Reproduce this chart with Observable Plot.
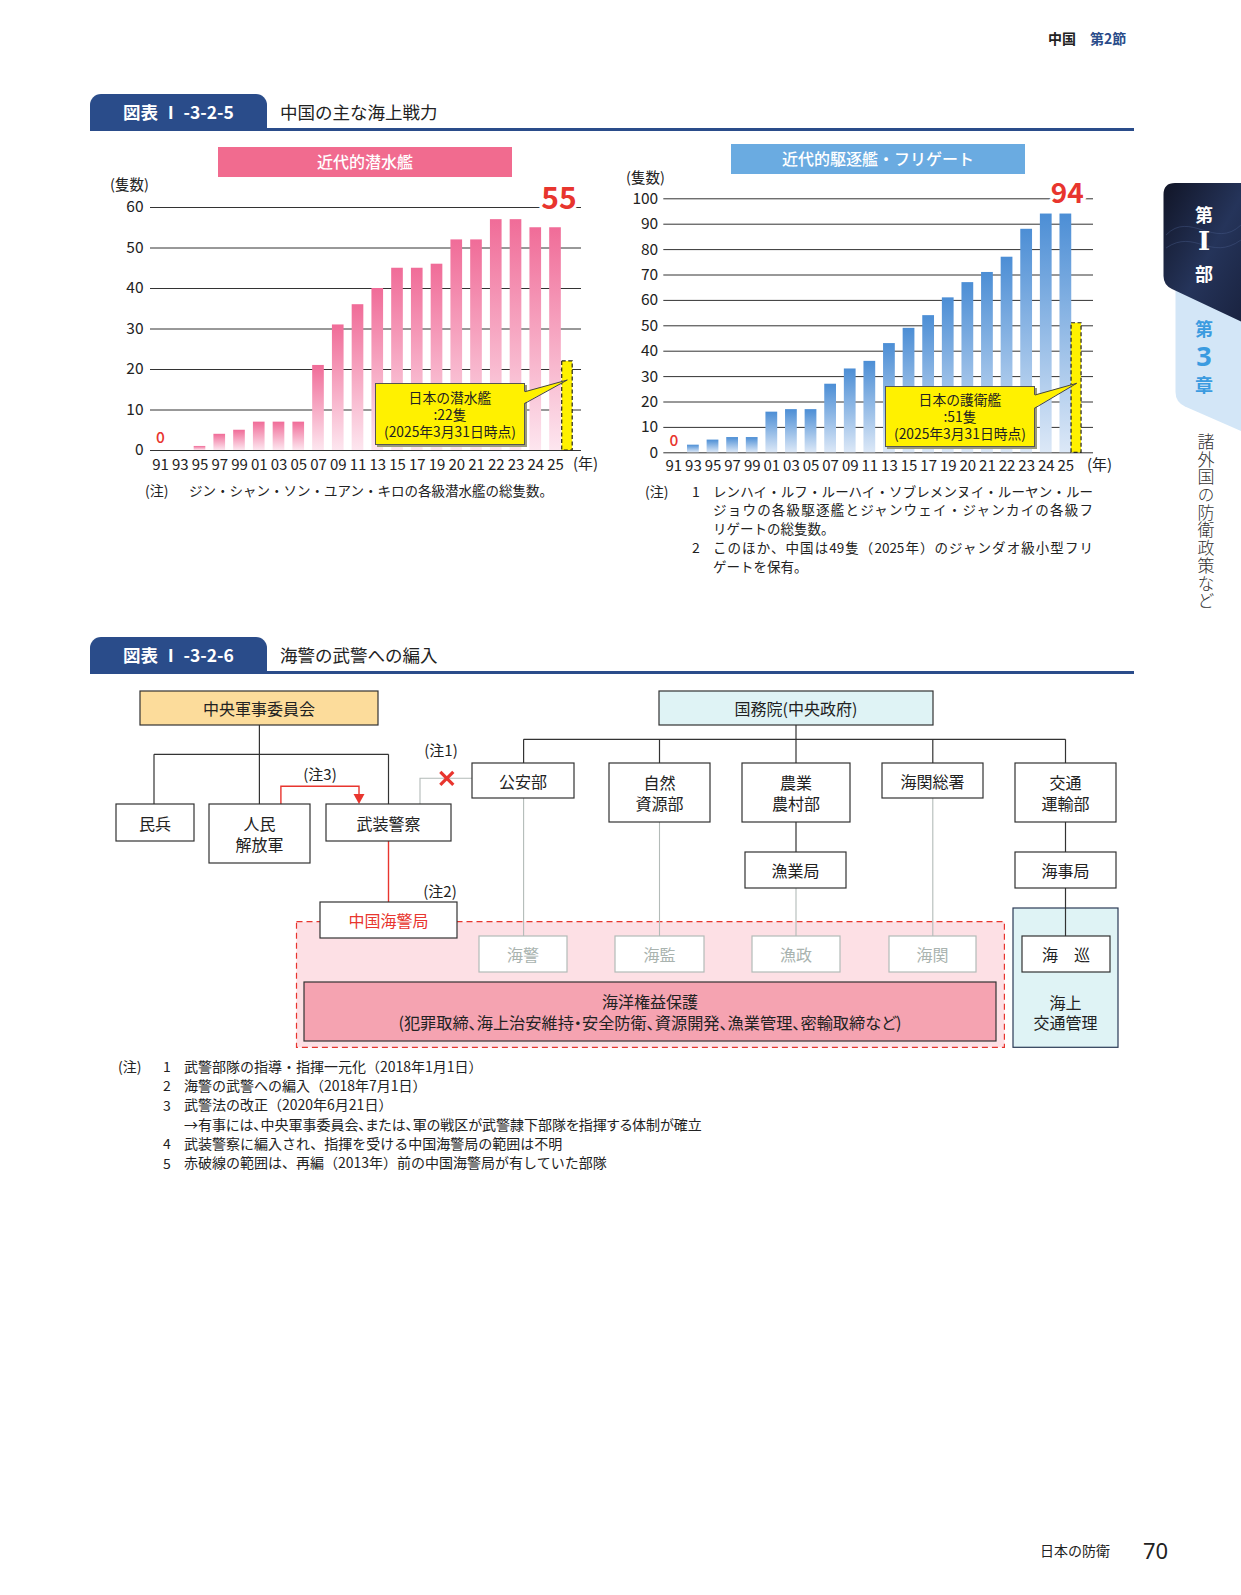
<!DOCTYPE html>
<html><head><meta charset="utf-8">
<script src="https://cdn.jsdelivr.net/npm/d3@7"></script>
<script src="https://cdn.jsdelivr.net/npm/@observablehq/plot@0.6"></script>
<style>
body{margin:0;background:#fff;}
#page{position:relative;width:1241px;height:1595px;overflow:hidden;background:#fff;font-family:'Noto Sans CJK JP','Noto Sans',sans-serif;color:#222;}
.abs{position:absolute;white-space:nowrap;}
</style></head>
<body><div id="page"></div>
<script>
const FONT = "'Noto Sans CJK JP','Noto Sans',sans-serif";

// ---- data ----
const years = ["91","93","95","97","99","01","03","05","07","09","11","13","15","17","19","20","21","22","23","24","25"];
const submarines = [0,0,1,4,5,7,7,7,21,31,36,40,45,45,46,52,52,57,57,55,55];
const destroyers = [0,3,5,6,6,16,17,17,27,33,36,43,49,54,61,67,71,77,88,94,94];
const japanSubmarines = 22;
const japanEscorts = 51;
const subTicks = [0,10,20,30,40,50,60];
const dstTicks = [0,10,20,30,40,50,60,70,80,90,100];
const subTitle = "近代的潜水艦";
const dstTitle = "近代的駆逐艦・フリゲート";
const subCallout = ["日本の潜水艦", ":" + japanSubmarines + "隻", "(2025年3月31日時点)"];
const dstCallout = ["日本の護衛艦", ":" + japanEscorts + "隻", "(2025年3月31日時点)"];
const subNote = "ジン・シャン・ソン・ユアン・キロの各級潜水艦の総隻数。";
const dstNotes = [
  ["1", "レンハイ・ルフ・ルーハイ・ソブレメンヌイ・ルーヤン・ルー", true],
  ["", "ジョウの各級駆逐艦とジャンウェイ・ジャンカイの各級フ", true],
  ["", "リゲートの総隻数。", false],
  ["2", "このほか、中国は49隻（2025年）のジャンダオ級小型フリ", true],
  ["", "ゲートを保有。", false]
];
const orgNotes = [
  ["1", "武警部隊の指導・指揮一元化（2018年1月1日）", false],
  ["2", "海警の武警への編入（2018年7月1日）", false],
  ["3", "武警法の改正（2020年6月21日）", false],
  ["", " →有事には、中央軍事委員会、または、軍の戦区が武警隷下部隊を指揮する体制が確立", true],
  ["4", "武装警察に編入され、指揮を受ける中国海警局の範囲は不明", false],
  ["5", "赤破線の範囲は、再編（2013年）前の中国海警局が有していた部隊", false]
];

const page = document.getElementById("page");
const NS = "http://www.w3.org/2000/svg";

function txt(s, x, y, o = {}) {
  const d = document.createElement("div");
  d.className = "abs";
  const fs = o.fs || 14, lh = o.lh || 20;
  d.style.cssText = `left:${x}px;top:${y - lh / 2}px;font-size:${fs}px;line-height:${lh}px;` + (o.css || "");
  if (o.center) d.style.transform = "translateX(-50%)";
  d.textContent = s;
  page.appendChild(d);
  return d;
}
function box(x, y, w, h, css) {
  const d = document.createElement("div");
  d.className = "abs";
  d.style.cssText = `left:${x}px;top:${y}px;width:${w}px;height:${h}px;` + css;
  page.appendChild(d);
  return d;
}

// ---- header ----
txt("中国", 1048, 38, {fs: 14, css: "font-weight:700;color:#222;"});
txt("第2節", 1090, 38, {fs: 14, css: "font-weight:700;color:#2a4c8a;"});

function sectionTitle(y, label, title) {
  box(90, y + 34, 1044, 2.6, "background:#2a4c8a;");
  const t = box(90, y, 177, 36.5, "background:#2a4c8a;border-radius:11px 11px 0 0;color:#fff;font-size:17.5px;font-weight:700;line-height:36px;text-align:center;");
  t.textContent = label;
  txt(title, 280, y + 18, {fs: 17.5, css: "color:#222;"});
}
sectionTitle(94, "図表 Ⅰ -3-2-5", "中国の主な海上戦力");
sectionTitle(637, "図表 Ⅰ -3-2-6", "海警の武警への編入");

// ---- chart headers ----
const h1 = box(218, 147, 294, 29.5, "background:#f16b8f;color:#fff;font-size:16px;line-height:29px;text-align:center;font-weight:500;");
h1.textContent = subTitle;
const h2 = box(731, 144, 294, 29.5, "background:#6aabe1;color:#fff;font-size:16px;line-height:29px;text-align:center;font-weight:500;");
h2.textContent = dstTitle;
txt("(隻数)", 110, 184, {fs: 14.5});
txt("(隻数)", 626, 177, {fs: 14.5});

// ---- bar charts ----
function addGrad(svg, id, top, bot) {
  const defs = document.createElementNS(NS, "defs");
  defs.innerHTML = `<linearGradient id="${id}" x1="0" y1="0" x2="0" y2="1"><stop offset="0" stop-color="${top}"/><stop offset="1" stop-color="${bot}"/></linearGradient>`;
  svg.insertBefore(defs, svg.firstChild);
}
function barChart(values, japan, ticks, c) {
  const data = values.map((v, i) => ({i, v}));
  const last = values.length - 1;
  const hw = c.barW / 2;
  const yMax = ticks[ticks.length - 1];
  const svg = Plot.plot({
    width: c.w, height: c.h,
    marginLeft: c.ml, marginRight: c.mr, marginTop: c.mt, marginBottom: c.mb,
    style: {fontFamily: FONT, fontSize: "15px", color: "#222", background: "transparent", overflow: "visible"},
    x: {type: "linear", domain: c.xDomain},
    y: {type: "linear", domain: [0, yMax]},
    marks: [
      Plot.ruleY(ticks, {stroke: "#333", strokeWidth: 1}),
      Plot.rect(data.filter(d => d.v > 0), {x1: d => d.i - hw, x2: d => d.i + hw, y1: () => 0, y2: "v", fill: `url(#${c.grad})`}),
      Plot.rect([japan], {x1: () => last + c.jp[0], x2: () => last + c.jp[1], y1: () => 0, y2: d => d, fill: "#fff100", stroke: "#222", strokeWidth: 1.2, strokeDasharray: "4,2.5"}),
      Plot.axisY(ticks, {tickSize: 0, tickPadding: c.yPad, fontSize: 15.5, label: null}),
      Plot.axisX(data.map(d => d.i), {tickSize: 0, tickPadding: c.xPad, tickFormat: i => years[i], fontSize: 15, label: null}),
      Plot.text(data.filter(d => d.i === 0 && d.v === 0), {x: "i", y: () => 0, dy: -12, text: () => "0", fill: "#e8352e", fontSize: 15.5, fontWeight: 500}),
      Plot.text([values[last]], {x: () => last, y: () => yMax, dx: c.bigDx, dy: c.bigDy, text: d => String(d), fill: "#e8352e", stroke: "#fff", strokeWidth: 6, fontSize: c.bigFs, fontWeight: 700}),
      Plot.text(["(年)"], {frameAnchor: "bottom-right", textAnchor: "middle", lineAnchor: "middle", dx: c.yrDx, dy: c.yrDy, text: d => d, fontSize: 15})
    ]
  });
  addGrad(svg, c.grad, c.gTop, c.gBot);
  svg.style.position = "absolute";
  svg.style.left = c.left + "px";
  svg.style.top = c.top + "px";
  page.appendChild(svg);
}
barChart(submarines, japanSubmarines, subTicks, {
  left: 90, top: 175, w: 520, h: 300, ml: 60, mr: 29, mt: 32, mb: 25,
  xDomain: [-0.506, 21.316], barW: 0.59, jp: [0.34, 0.87], yPad: 7, xPad: 9,
  bigDx: 3.5, bigDy: -8, bigFs: 30, yrDx: 4, yrDy: 14,
  grad: "gPink", gTop: "#f06c98", gBot: "#fde6ef"
});
barChart(destroyers, japanEscorts, dstTicks, {
  left: 610, top: 170, w: 510, h: 305, ml: 53.3, mr: 27, mt: 28.3, mb: 22.7,
  xDomain: [-0.51, 21.41], barW: 0.6, jp: [0.29, 0.8], yPad: 5.6, xPad: 8,
  bigDx: 1.4, bigDy: -5, bigFs: 28, yrDx: 6, yrDy: 12.7,
  grad: "gBlue", gTop: "#4c8ed5", gBot: "#dce8f7"
});

// callouts
function callout(x, y, w, h, lines) {
  const d = box(x, y, w, h, "background:#fff100;border:1px solid #555;box-sizing:border-box;box-shadow:2px 2px 0 #9a9a7a;display:flex;flex-direction:column;justify-content:center;align-items:center;font-size:13.8px;line-height:17px;color:#222;");
  lines.forEach(l => { const s = document.createElement("div"); s.textContent = l; s.style.height = "17px"; d.appendChild(s); });
}
callout(375, 383, 150, 62, subCallout);
callout(885, 386, 150, 61, dstCallout);

// notes under charts
txt("(注)", 145, 490, {fs: 14});
txt(subNote, 189, 490, {fs: 13.5});
txt("(注)", 645, 490.7, {fs: 14});
dstNotes.forEach((n, k) => {
  const y = 490.7 + k * 18.75;
  if (n[0]) txt(n[0], 692, y, {fs: 14});
  txt(n[1], 713, y, {fs: 13.5, lh: 18, css: n[2] ? "width:380px;text-align:justify;text-align-last:justify;" : ""});
});

// ---- overlay svg: pointers, side tab, org chart ----
const ov = document.createElementNS(NS, "svg");
ov.setAttribute("width", 1241); ov.setAttribute("height", 1595);
ov.style.cssText = "position:absolute;left:0;top:0;pointer-events:none;";
let s = `<defs><linearGradient id="navy" x1="0" y1="0" x2="1" y2="1"><stop offset="0" stop-color="#111527"/><stop offset="0.55" stop-color="#25345a"/><stop offset="1" stop-color="#1a2340"/></linearGradient></defs>`;
// pointers
s += `<polygon points="524,391.7 567.3,380 524,403.3" fill="#fff100"/><polyline points="525,391.7 567.3,380 525,403.3" fill="none" stroke="#444" stroke-width="1"/>`;
s += `<polygon points="1034,395 1076.7,383.3 1034,408" fill="#fff100"/><polyline points="1035,395 1076.7,383.3 1035,408" fill="none" stroke="#444" stroke-width="1"/>`;
// side tab
s += `<path d="M1241,296 L1175.5,282 L1175.5,392 Q1175.5,402 1185,406.5 L1241,431 Z" fill="#d3e6f7"/>`;
s += `<path d="M1241,183 L1175,183 Q1163.5,183 1163.5,194.5 L1163.5,276 Q1163.5,285 1172,289 L1241,321.5 Z" fill="url(#navy)"/>`;
s += `<path d="M1166,235 C1190,210 1215,250 1241,225 M1166,248 C1195,228 1210,262 1241,240" fill="none" stroke="#4a5f8f" stroke-opacity="0.5" stroke-width="0.8"/>`;

// org chart
const K = "#333", G = "#b3bbb8", R = "#e8352e";
s += `<rect x="296.5" y="921.7" width="707.9" height="125.6" fill="#fde0e5" stroke="${R}" stroke-width="1.2" stroke-dasharray="6,4"/>`;
s += `<rect x="1013" y="908" width="105" height="139.3" fill="#dff3f5" stroke="#2b3a55" stroke-width="1.2"/>`;
const blackLines = [[259.4,725,259.4,754.3],[154,754.3,388.5,754.3],[154,754.3,154,804],[259.4,754.3,259.4,804],[388.5,754.3,388.5,804],
  [796,725,796,739.3],[523.6,739.3,1065.5,739.3],[523.6,739.3,523.6,763],[659.5,739.3,659.5,763],[796,739.3,796,763],[932.8,739.3,932.8,763],[1065.5,739.3,1065.5,763],
  [796,822,796,852],[1065.5,822,1065.5,852],[1065.5,888,1065.5,936]];
const grayLines = [[523.6,798,523.6,936],[659.5,822,659.5,936],[796,888,796,936],[932.8,798,932.8,936]];
blackLines.forEach(l => s += `<line x1="${l[0]}" y1="${l[1]}" x2="${l[2]}" y2="${l[3]}" stroke="${K}" stroke-width="1.2"/>`);
grayLines.forEach(l => s += `<line x1="${l[0]}" y1="${l[1]}" x2="${l[2]}" y2="${l[3]}" stroke="${G}" stroke-width="1.1"/>`);
s += `<polyline points="420,804 420,778.3 472,778.3" fill="none" stroke="${G}" stroke-width="1.1"/>`;
s += `<line x1="388.5" y1="841" x2="388.5" y2="902" stroke="${R}" stroke-width="1.4"/>`;
s += `<polyline points="280.9,804 280.9,786.3 359,786.3 359,795" fill="none" stroke="${R}" stroke-width="1.4"/>`;
s += `<polygon points="353.5,794 364.5,794 359,804" fill="${R}"/>`;
s += `<line x1="440.3" y1="771.8" x2="453.3" y2="784.8" stroke="${R}" stroke-width="3.2"/><line x1="453.3" y1="771.8" x2="440.3" y2="784.8" stroke="${R}" stroke-width="3.2"/>`;
const orgBoxes = [
  [["中央軍事委員会"],140,691,238,34,"#fcdc9b",K,"#222"],
  [["国務院(中央政府)"],659,691,274,34,"#dff3f5",K,"#222"],
  [["民兵"],116,804,78,37,"#fff",K,"#222"],
  [["人民","解放軍"],209,804,101,59,"#fff",K,"#222"],
  [["武装警察"],326,804,125,37,"#fff",K,"#222"],
  [["公安部"],472,763,102,35,"#fff",K,"#222"],
  [["自然","資源部"],609,763,101,59,"#fff",K,"#222"],
  [["農業","農村部"],742,763,108,59,"#fff",K,"#222"],
  [["海関総署"],882,763,101,35,"#fff",K,"#222"],
  [["交通","運輸部"],1015,763,101,59,"#fff",K,"#222"],
  [["漁業局"],745,852,101,36,"#fff",K,"#222"],
  [["海事局"],1015,852,101,36,"#fff",K,"#222"],
  [["中国海警局"],320,902,137,36,"#fff",K,R],
  [["海警"],479,936,88,36,"#fff",G,"#a9b3af"],
  [["海監"],615,936,89,36,"#fff",G,"#a9b3af"],
  [["漁政"],752,936,88,36,"#fff",G,"#a9b3af"],
  [["海関"],889,936,87,36,"#fff",G,"#a9b3af"],
  [["海　巡"],1022,936,88,36,"#fff",K,"#222"],
  [["海洋権益保護","(犯罪取締、海上治安維持・安全防衛、資源開発、漁業管理、密輸取締など)"],304,982,692,59,"#f5a3b1",K,"#222"]
];
orgBoxes.forEach(b => {
  const [lines, x, y, w, h, fill, stroke, tc] = b;
  s += `<rect x="${x}" y="${y}" width="${w}" height="${h}" fill="${fill}" stroke="${stroke}" stroke-width="1.2"/>`;
  const cx = x + w / 2, cy = y + h / 2;
  lines.forEach((l, k) => {
    const ty = cy + (k - (lines.length - 1) / 2) * 20.5;
    const long = l.length > 20;
    s += `<text x="${cx}" y="${ty}" text-anchor="middle" dominant-baseline="central" font-size="${long ? 16.2 : 16}" fill="${tc}" font-family="Noto Sans CJK JP"${long ? ` style="font-feature-settings:'palt'"` : ""}>${l}</text>`;
  });
});
[["海上", 1001.7], ["交通管理", 1021.7]].forEach(t => {
  s += `<text x="1065.5" y="${t[1]}" text-anchor="middle" dominant-baseline="central" font-size="16" fill="#222" font-family="Noto Sans CJK JP">${t[0]}</text>`;
});
[["(注1)", 441, 749.7], ["(注3)", 320, 773], ["(注2)", 440, 890]].forEach(t => {
  s += `<text x="${t[1]}" y="${t[2]}" text-anchor="middle" dominant-baseline="central" font-size="15" fill="#222" font-family="Noto Sans CJK JP">${t[0]}</text>`;
});
ov.innerHTML = s;
page.appendChild(ov);

// side tab text
txt("第", 1204, 214, {fs: 18, center: true, css: "color:#fff;font-weight:700;"});
txt("Ⅰ", 1204, 241, {fs: 26, lh: 28, center: true, css: "color:#fff;font-weight:700;font-family:'DejaVu Serif',serif;"});
txt("部", 1204, 272.5, {fs: 18, center: true, css: "color:#fff;font-weight:700;"});
txt("第", 1204, 328, {fs: 18, center: true, css: "color:#3b9be0;font-weight:700;"});
txt("3", 1204, 356, {fs: 27, lh: 26, center: true, css: "color:#3b9be0;font-weight:700;font-family:'Noto Sans',sans-serif;"});
txt("章", 1204, 383.5, {fs: 18, center: true, css: "color:#3b9be0;font-weight:700;"});
const vt = box(1195.5, 433, 20, 180, "writing-mode:vertical-rl;font-size:17px;line-height:20px;letter-spacing:0.7px;color:#333;font-weight:300;white-space:nowrap;");
vt.textContent = "諸外国の防衛政策など";

// org notes
txt("(注)", 118, 1066, {fs: 14});
orgNotes.forEach((n, k) => {
  const y = 1066 + k * 19.35;
  if (n[0]) txt(n[0], 163, y, {fs: 14});
  txt(n[1], 184, y, {fs: 14, lh: 19, css: n[2] ? "font-feature-settings:'palt';" : ""});
});

// footer
txt("日本の防衛", 1040, 1550, {fs: 14});
txt("70", 1143, 1550, {fs: 22, lh: 26, css: "font-family:'Noto Sans',sans-serif;"});
</script>
</body></html>
